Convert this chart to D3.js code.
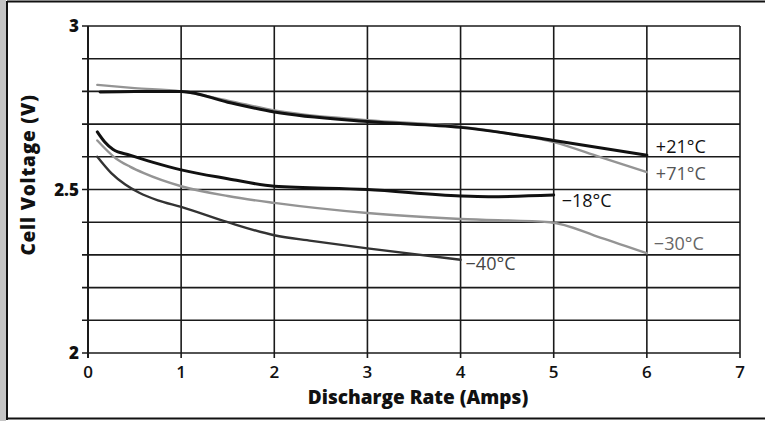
<!DOCTYPE html>
<html><head><meta charset="utf-8">
<script src="https://cdn.jsdelivr.net/npm/d3@7"></script>
<style>
html,body{margin:0;padding:0;background:#fff;}
svg{display:block;}
text{font-family:"Open Sans","Noto Sans",sans-serif;}
</style></head>
<body>
<svg id="c" width="765" height="421"></svg>
<script>
const xTicks = [0,1,2,3,4,5,6,7];
const yTickLabels = [{v:2,t:"2"},{v:2.5,t:"2.5"},{v:3,t:"3"}];
const yGrid = [2.0,2.1,2.2,2.3,2.4,2.5,2.6,2.7,2.8,2.9,3.0];

const names = ["+21°C","+71°C","−18°C","−30°C","−40°C"];
const x21 = [0.13,0.5,1,1.5,2,3,4,5,6];
const y21 = [2.798,2.80,2.80,2.767,2.737,2.708,2.69,2.65,2.605];
const x71 = [0.1,0.5,1,1.5,2,3,4,4.5,5,5.5,6];
const y71 = [2.82,2.81,2.80,2.772,2.742,2.712,2.692,2.672,2.645,2.599,2.553];
const x18 = [0.1,0.18,0.27,0.45,0.7,1,1.5,2,3,4,4.3,5];
const y18 = [2.676,2.645,2.622,2.605,2.583,2.56,2.533,2.51,2.50,2.48,2.478,2.483];
const x30 = [0.1,0.3,0.45,0.6,1,1.5,2,3,4,4.96,5.5,6];
const y30 = [2.65,2.595,2.57,2.55,2.51,2.48,2.459,2.428,2.41,2.40,2.353,2.305];
const x40 = [0.1,0.25,0.4,0.55,0.75,1,1.5,2,2.4,3,4];
const y40 = [2.60,2.55,2.515,2.49,2.467,2.447,2.40,2.36,2.343,2.32,2.285];

const series = [
  {name:names[0], xs:x21, ys:y21},
  {name:names[1], xs:x71, ys:y71},
  {name:names[2], xs:x18, ys:y18},
  {name:names[3], xs:x30, ys:y30},
  {name:names[4], xs:x40, ys:y40}
];
const styles = [
  {stroke:"#111", w:3, tc:"#111", tw:400, dx:9, dy:-2},
  {stroke:"#949494", w:2.4, tc:"#555", tw:400, dx:9, dy:8},
  {stroke:"#111", w:3, tc:"#111", tw:400, dx:8, dy:12},
  {stroke:"#949494", w:2.4, tc:"#666", tw:400, dx:7, dy:-3},
  {stroke:"#333", w:2.4, tc:"#444", tw:400, dx:5, dy:10}
];

const svg = d3.select("#c");
const x = d3.scaleLinear().domain([0,7]).range([88,740]);
const y = d3.scaleLinear().domain([2,3]).range([353,26]);

// frame
svg.append("rect").attr("x",0).attr("y",0).attr("width",6).attr("height",421).attr("fill","#c4c4c4");
svg.append("line").attr("x1",7).attr("x2",7).attr("y1",1).attr("y2",420).attr("stroke","#111").attr("stroke-width",2);
svg.append("line").attr("x1",7).attr("x2",765).attr("y1",1.5).attr("y2",1.5).attr("stroke","#111").attr("stroke-width",2);
svg.append("line").attr("x1",7).attr("x2",765).attr("y1",418.5).attr("y2",418.5).attr("stroke","#111").attr("stroke-width",2);

// horizontal grid
svg.append("g").selectAll("line").data(yGrid).join("line")
  .attr("x1",x(0)-6).attr("x2",x(7))
  .attr("y1",d=>y(d)).attr("y2",d=>y(d))
  .attr("stroke","#1a1a1a").attr("stroke-width",1.6);
// vertical grid
svg.append("g").selectAll("line").data(xTicks).join("line")
  .attr("x1",d=>x(d)).attr("x2",d=>x(d))
  .attr("y1",y(3)).attr("y2",y(2)+5)
  .attr("stroke","#1a1a1a").attr("stroke-width",d=>d===0?2:1.6);

// tick labels
svg.append("g").selectAll("text").data(xTicks).join("text")
  .attr("x",d=>x(d)).attr("y",y(2)+25)
  .attr("text-anchor","middle").attr("font-size",17).attr("font-weight",600)
  .attr("fill","#111").text(d=>d);
svg.append("g").selectAll("text").data(yTickLabels).join("text")
  .attr("x",x(0)-9).attr("y",d=>y(d.v)+6)
  .attr("text-anchor","end").attr("font-size",17).attr("font-weight",800)
  .attr("fill","#111").text(d=>d.t);

// axis titles
svg.append("text").attr("x",418).attr("y",404).attr("text-anchor","middle")
  .attr("font-size",19).attr("font-weight",800).attr("fill","#111")
  .text("Discharge Rate (Amps)");
svg.append("text").attr("transform","translate(35,175) rotate(-90)").attr("text-anchor","middle")
  .attr("font-size",19).attr("font-weight",800).attr("fill","#111")
  .attr("letter-spacing",0.8)
  .text("Cell Voltage (V)");

// lines
const line = d3.line().x(d=>x(d[0])).y(d=>y(d[1])).curve(d3.curveMonotoneX);
const order = [1,3,4,0,2];
order.forEach(i=>{
  const s = series[i], st = styles[i];
  const pts = s.xs.map((v,j)=>[v,s.ys[j]]);
  svg.append("path").attr("d",line(pts)).attr("fill","none")
    .attr("stroke",st.stroke).attr("stroke-width",st.w)
    .attr("stroke-linejoin","round").attr("stroke-linecap","round");
  const last = pts[pts.length-1];
  svg.append("text").attr("x",x(last[0])+st.dx).attr("y",y(last[1])+st.dy)
    .attr("font-size",18).attr("font-weight",st.tw).attr("fill",st.tc)
    .text(s.name);
});
</script>
</body></html>
